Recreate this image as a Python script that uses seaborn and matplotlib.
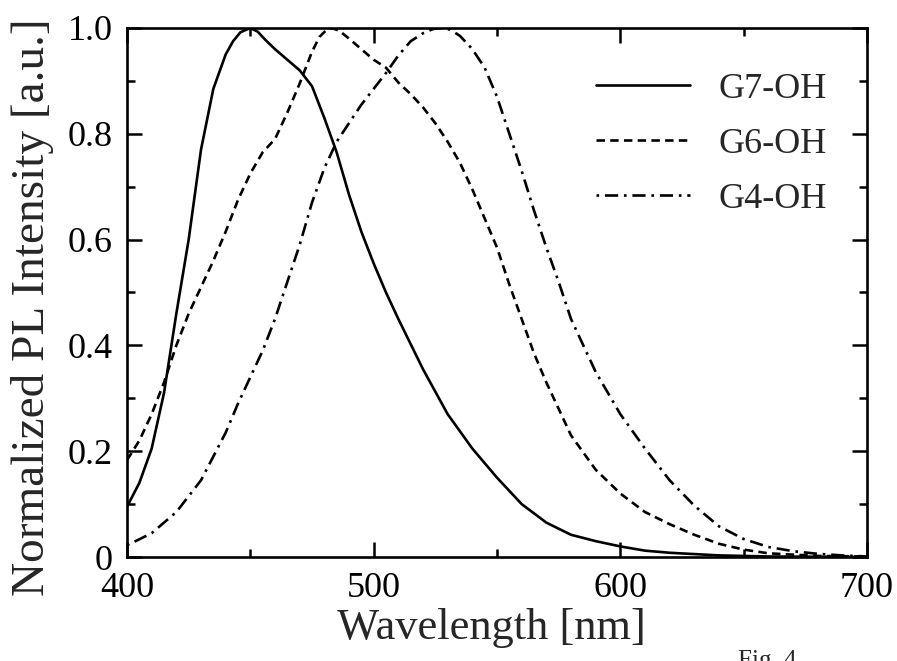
import matplotlib
matplotlib.use("Agg")
import matplotlib.pyplot as plt
import numpy as np
import pandas as pd
import seaborn as sns
from matplotlib.ticker import MultipleLocator

# G7-OH (solid)
g7_wl = [400, 405, 410, 415, 420, 425, 430, 435, 440, 443, 446, 450, 453, 456, 460, 465,
         470, 475, 480, 485, 490, 495, 500, 505, 510, 520, 530, 540, 550, 560, 570, 580,
         590, 600, 610, 620, 640, 660, 700]
g7_int = [0.095, 0.14, 0.205, 0.31, 0.46, 0.60, 0.77, 0.885, 0.95, 0.975, 0.992, 1.0, 0.993,
          0.978, 0.96, 0.94, 0.92, 0.89, 0.83, 0.765, 0.685, 0.615, 0.555, 0.50, 0.45, 0.355,
          0.27, 0.205, 0.15, 0.10, 0.065, 0.042, 0.03, 0.02, 0.012, 0.008, 0.003, 0.001, 0.0]

# G6-OH (dashed)
g6_wl = [400, 405, 410, 415, 420, 425, 430, 435, 440, 445, 450, 455, 460, 465, 470, 475,
         478, 481, 483, 486, 490, 495, 500, 505, 510, 515, 520, 525, 530, 535, 540, 545,
         550, 555, 560, 565, 570, 575, 580, 590, 600, 610, 620, 630, 640, 650, 660, 680, 700]
g6_int = [0.183, 0.22, 0.27, 0.33, 0.40, 0.46, 0.51, 0.56, 0.615, 0.675, 0.725, 0.765, 0.79,
          0.84, 0.895, 0.955, 0.983, 0.997, 1.0, 0.995, 0.98, 0.96, 0.94, 0.925, 0.897, 0.875,
          0.85, 0.82, 0.785, 0.745, 0.695, 0.64, 0.585, 0.515, 0.45, 0.385, 0.33, 0.28, 0.23,
          0.165, 0.12, 0.085, 0.062, 0.042, 0.025, 0.014, 0.007, 0.002, 0.001]

# G4-OH (dash-dot)
g4_wl = [400, 410, 420, 430, 440, 445, 450, 455, 460, 465, 470, 475, 480, 485, 490, 495,
         500, 505, 510, 515, 520, 524, 527, 531, 535, 540, 545, 550, 555, 560, 565, 570,
         575, 580, 590, 600, 610, 620, 630, 640, 650, 660, 670, 680, 690, 700]
g4_int = [0.022, 0.045, 0.085, 0.145, 0.235, 0.29, 0.34, 0.39, 0.45, 0.52, 0.59, 0.67, 0.735,
          0.785, 0.82, 0.855, 0.885, 0.915, 0.948, 0.975, 0.99, 0.998, 1.0, 0.997, 0.985, 0.96,
          0.925, 0.87, 0.80, 0.73, 0.655, 0.585, 0.52, 0.45, 0.35, 0.27, 0.205, 0.145, 0.097,
          0.058, 0.034, 0.019, 0.011, 0.006, 0.003, 0.001]

x_ticks = [400, 500, 600, 700]
y_ticks = [0, 0.2, 0.4, 0.6, 0.8, 1.0]
y_tick_labels = ["0", "0.2", "0.4", "0.6", "0.8", "1.0"]

series = [
    ("G7-OH", g7_wl, g7_int, "-"),
    ("G6-OH", g6_wl, g6_int, (0, (3.2, 2.0))),
    ("G4-OH", g4_wl, g4_int, (0, (1.0, 2.2, 5.0, 2.2))),
]

sns.set_style("ticks")
plt.rcParams['font.family'] = ['Liberation Serif', 'DejaVu Serif']

fig = plt.figure(figsize=(8.97, 6.61), dpi=100)
ax = fig.add_axes([127 / 897, 1 - 557 / 661, 740 / 897, 529 / 661])

for name, wl, inten, ls in series:
    df = pd.DataFrame({"wavelength": wl, "intensity": inten})
    sns.lineplot(data=df, x="wavelength", y="intensity", ax=ax, color="black",
                 linewidth=1.9, linestyle=ls, label=name, estimator=None, sort=False)

ax.set_xlim(400, 700)
ax.set_ylim(0, 1.0)
ax.set_xticks(x_ticks)
ax.set_xticklabels([str(t) for t in x_ticks])
ax.set_yticks(y_ticks)
ax.set_yticklabels(y_tick_labels)
ax.xaxis.set_minor_locator(MultipleLocator(50))
ax.yaxis.set_minor_locator(MultipleLocator(0.1))
ax.tick_params(which="both", direction="in", top=True, right=True, width=1.8, colors="black")
ax.tick_params(which="major", length=11, labelsize=26)
ax.tick_params(axis="x", which="major", pad=11)
ax.tick_params(axis="y", which="major", pad=10)
ax.tick_params(which="minor", length=5.5)
for sp in ax.spines.values():
    sp.set_linewidth(1.9)
    sp.set_color("black")

ax.set_xlabel("Wavelength [nm]", fontsize=32, va="top")
ax.xaxis.set_label_coords(0.492, -0.096)
ax.set_ylabel("Normalized PL Intensity [a.u.]", fontsize=34, va="center")
ax.yaxis.set_label_coords(-0.128, 0.473)

leg = ax.legend(loc="upper right", bbox_to_anchor=(0.975, 0.957), frameon=False, fontsize=26,
                handlelength=2.6, handletextpad=0.8, labelspacing=0.6, borderaxespad=0.2)

fig.text(738 / 897, 1 - 650 / 661, "Fig. 4", fontsize=18, va="top", ha="left")

fig.savefig("out.png", dpi=100, facecolor="white")
